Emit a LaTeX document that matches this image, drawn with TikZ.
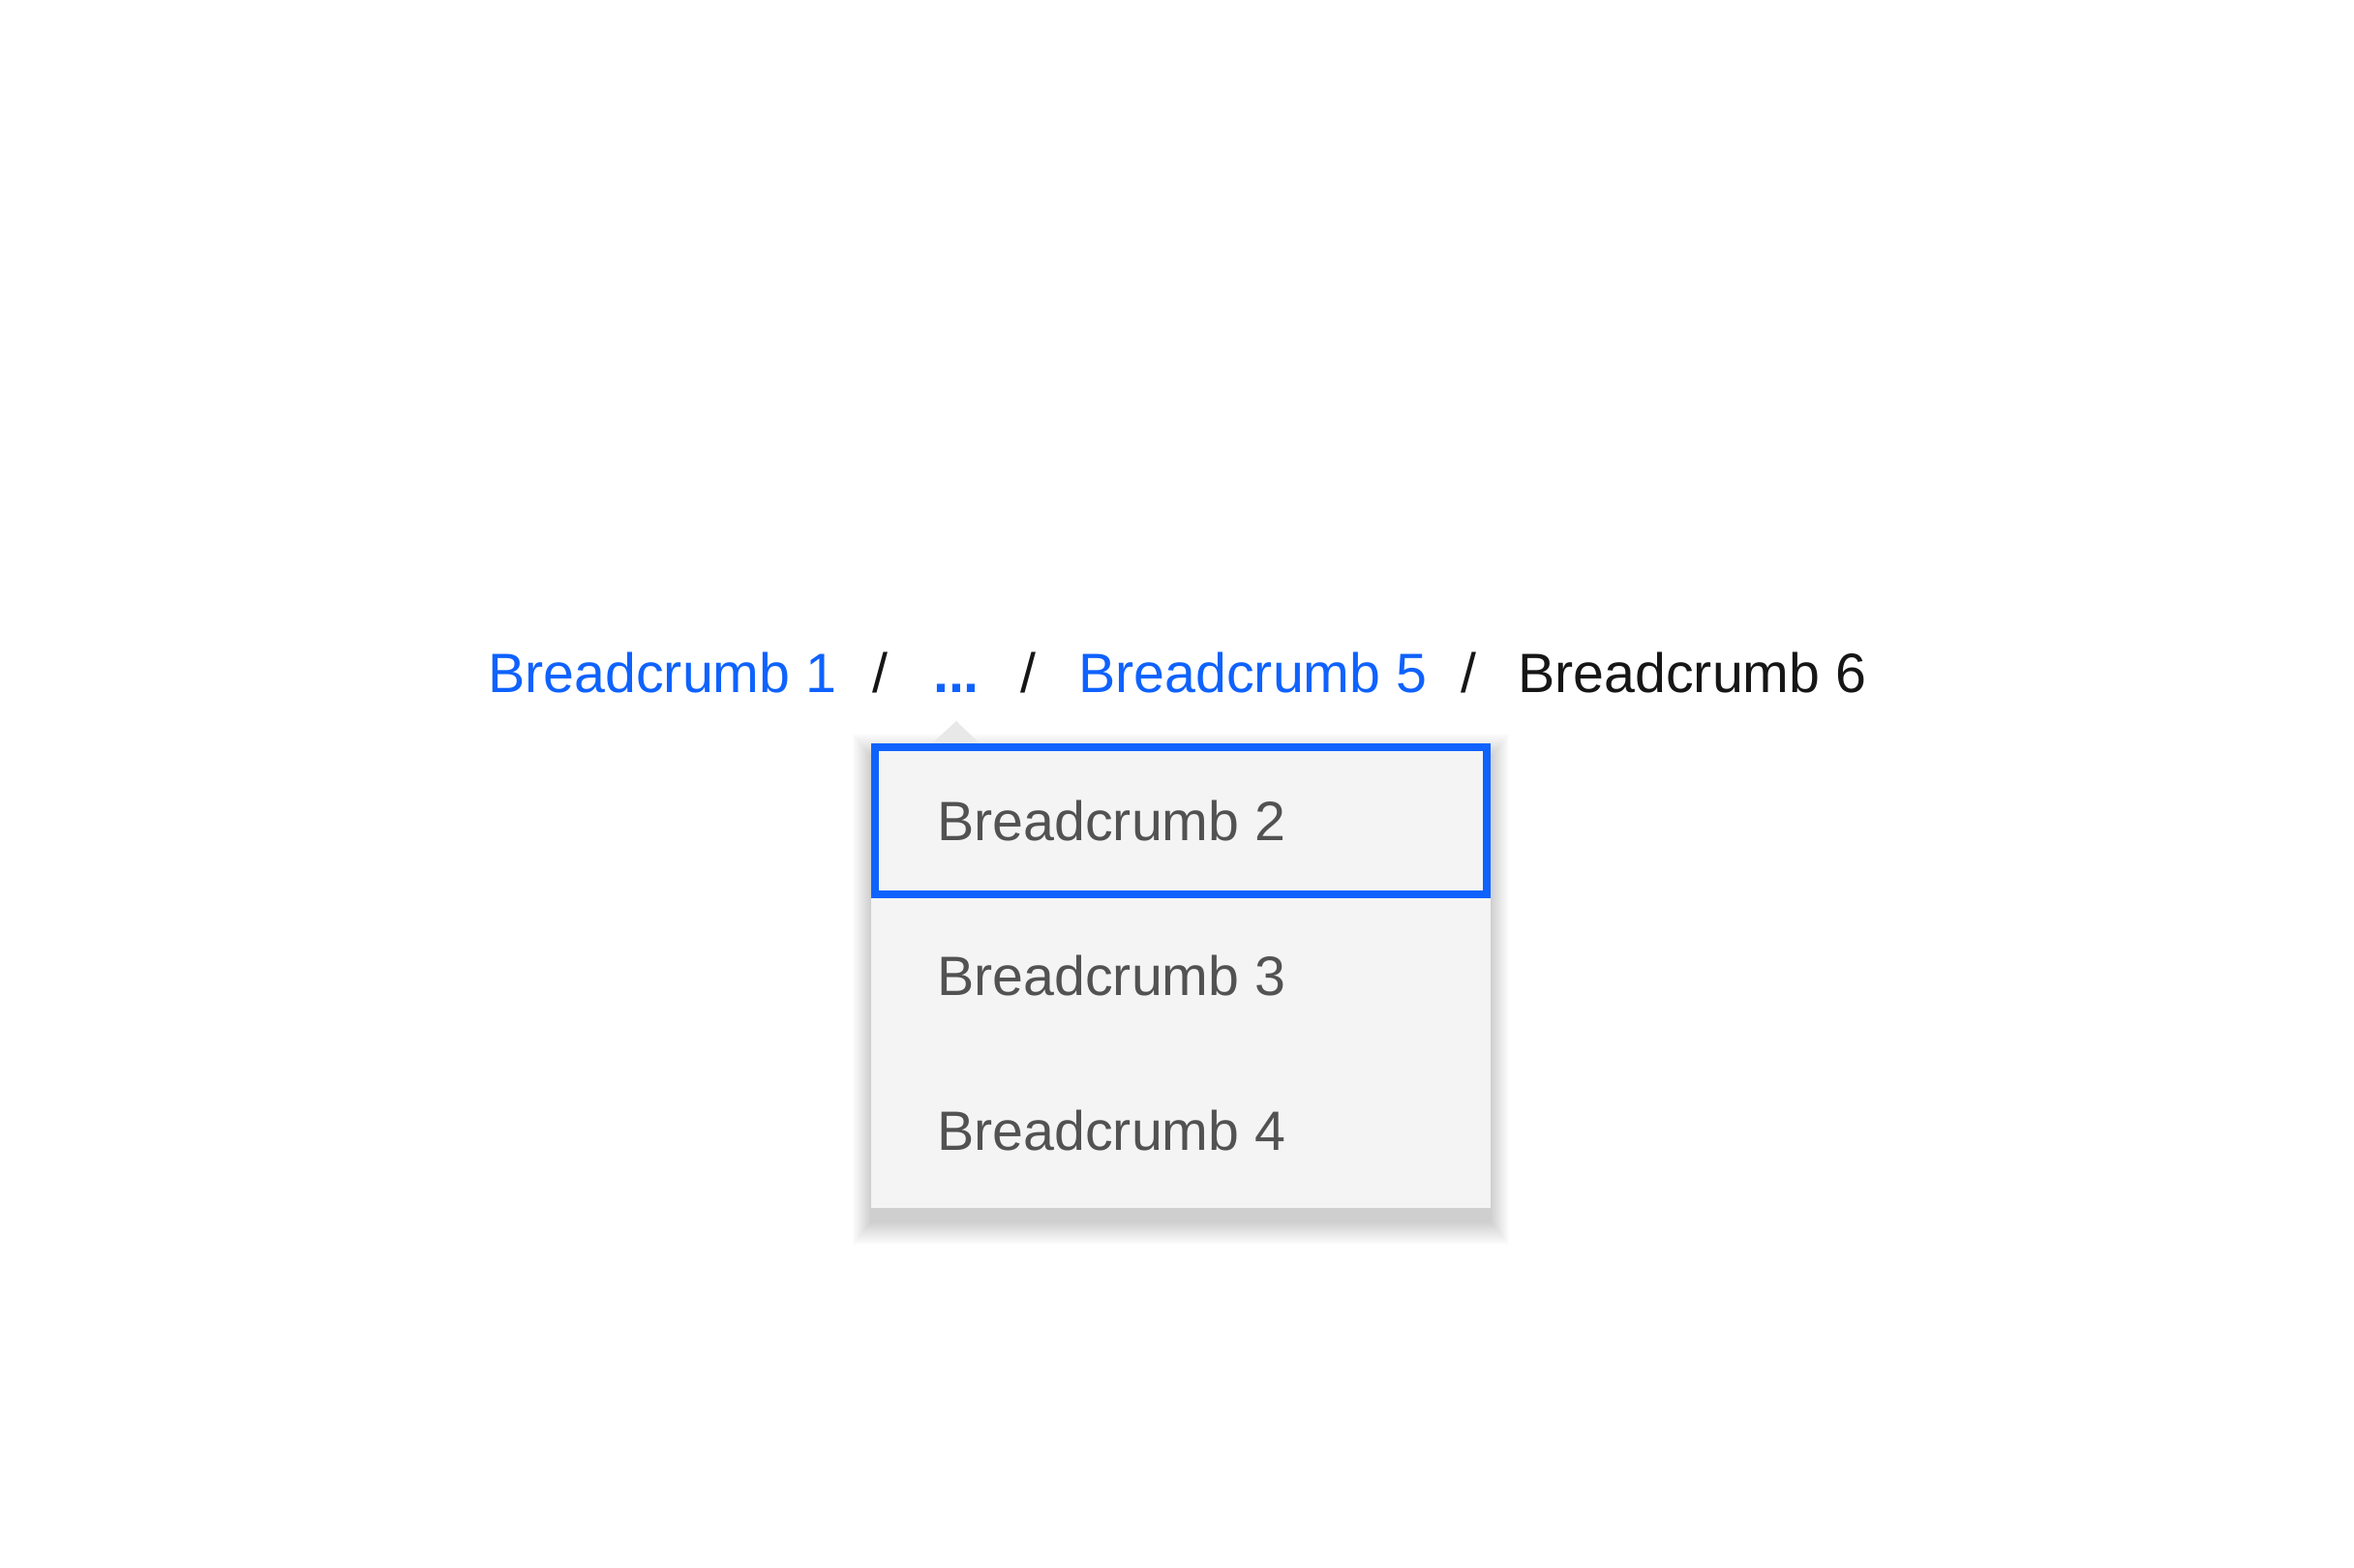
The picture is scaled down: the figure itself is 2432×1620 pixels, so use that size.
\documentclass[tikz,border=0pt]{standalone}
\usepackage{fontspec}
\setmainfont{Liberation Sans}
\usetikzlibrary{positioning}
\definecolor{linkblue}{HTML}{0F62FE}
\definecolor{textdark}{HTML}{161616}
\definecolor{menutext}{HTML}{525252}
\definecolor{menubg}{HTML}{F4F4F4}
\tikzset{
  crumb/.style={inner sep=0pt, anchor=base west, font=\fontsize{28.65}{34}\selectfont},
  link/.style={crumb, text=linkblue},
  sep/.style={crumb, anchor=base, text=textdark},
  item/.style={crumb, text=menutext},
}
\begin{document}
\begin{tikzpicture}[x=0.5pt,y=-0.5pt]
    \useasboundingbox (0,0) rectangle (2432,1620);
    \fill[white] (0,0) rectangle (2432,1620); %

    % breadcrumb trail
    \node[link] (crumb1) at (504,716) {Breadcrumb 1}; %
    \node[sep] (sep1) at (909,716) {/}; %
    \node[link, anchor=base] (more) at (988,716) {\bfseries ...}; %
    \node[sep] (sep2) at (1062,716) {/}; %
    \node[link] (crumb5) at (1114,716) {Breadcrumb 5}; %
    \node[sep] (sep3) at (1517,716) {/}; %
    \node[crumb, text=textdark] (crumb6) at (1568,716) {Breadcrumb 6}; %

    % overflow menu
    \coordinate (menuNW) at (900,768); %
    \coordinate (menuSE) at (1540,1248); %
    \foreach \k in {1,...,24}
        \fill[black, opacity=0.007] ([xshift=-\k*0.4pt, yshift=-7pt+\k*0.5pt]menuNW)
            rectangle ([xshift=\k*0.4pt, yshift=-7pt-\k*0.5pt]menuSE); %
    \fill[menubg!95!black] (963,768) -- (988,745) -- (1012,768) -- cycle; %
    \fill[menubg] (menuNW) rectangle (menuSE); %
    \draw[linkblue, line width=4pt] (904,772) rectangle (1536,924); %

    \foreach \n/\y in {2/868,3/1028,4/1188}
        \node[item] (menu\n) at (968,\y) {Breadcrumb \n}; %
\end{tikzpicture}
\end{document}
